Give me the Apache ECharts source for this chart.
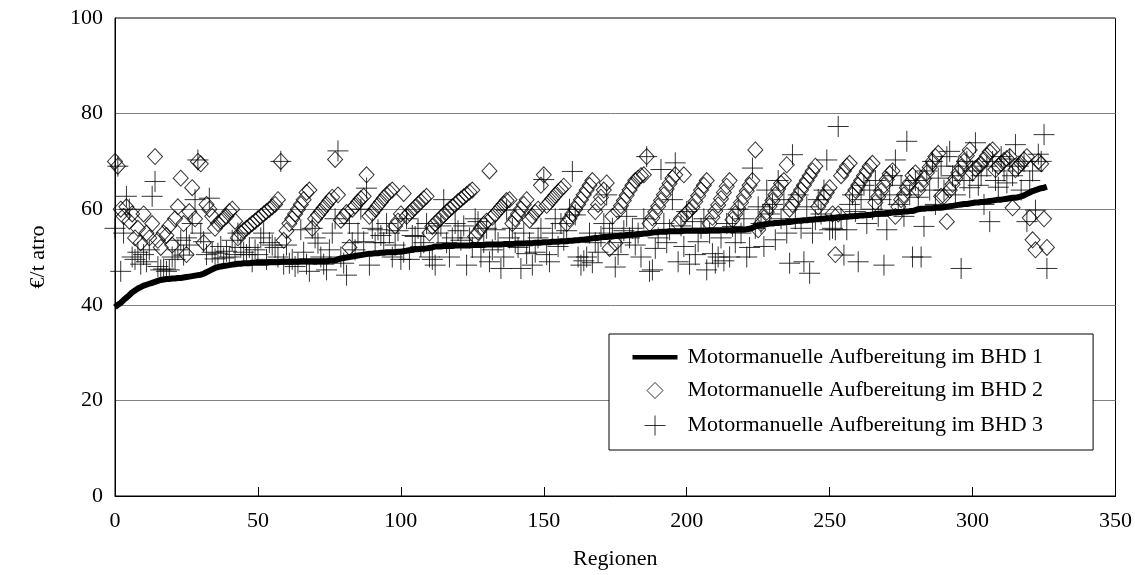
<!DOCTYPE html>
<html>
<head>
<meta charset="utf-8">
<script src="https://cdn.jsdelivr.net/npm/echarts@6/dist/echarts.min.js"></script>
<style>
  html, body { margin: 0; padding: 0; background: #fff; }
  #chart { width: 1135px; height: 575px; }
</style>
</head>
<body>
<div id="chart"></div>
<script>
// Kosten je Region (€/t atro), Regionen sortiert nach BHD 1
const seriesNames = [
  'Motormanuelle Aufbereitung im BHD 1',
  'Motormanuelle Aufbereitung im BHD 2',
  'Motormanuelle Aufbereitung im BHD 3'
];

const bhd1 = [
  39.5, 40.0, 40.4, 41.0, 41.5, 42.0, 42.6, 43.0, 43.4, 43.7, 44.0, 44.2,
  44.4, 44.6, 44.8, 45.0, 45.2, 45.3, 45.4, 45.4, 45.5, 45.5, 45.6, 45.6,
  45.7, 45.8, 45.9, 46.0, 46.1, 46.2, 46.3, 46.5, 46.8, 47.1, 47.4, 47.7,
  47.9, 48.0, 48.1, 48.2, 48.3, 48.4, 48.5, 48.6, 48.6, 48.7, 48.7, 48.7,
  48.8, 48.8, 48.8, 48.8, 48.8, 48.8, 48.9, 48.9, 48.9, 48.9, 49.0, 49.0,
  49.0, 49.0, 49.0, 49.0, 49.0, 49.1, 49.1, 49.1, 49.1, 49.1, 49.1, 49.1,
  49.1, 49.1, 49.1, 49.2, 49.2, 49.3, 49.5, 49.7, 49.8, 49.9, 50.0, 50.1,
  50.2, 50.3, 50.4, 50.5, 50.6, 50.7, 50.7, 50.8, 50.8, 50.9, 50.9, 51.0,
  51.0, 51.0, 51.0, 51.1, 51.1, 51.2, 51.3, 51.4, 51.5, 51.6, 51.6, 51.7, 51.7,
  51.8, 51.9, 52.0, 52.2, 52.2, 52.2, 52.3, 52.3, 52.3, 52.3, 52.4, 52.4,
  52.4, 52.4, 52.4, 52.4, 52.5, 52.5, 52.5, 52.5, 52.5, 52.6, 52.6, 52.6,
  52.6, 52.6, 52.6, 52.7, 52.7, 52.7, 52.7, 52.8, 52.8, 52.8, 52.8, 52.9,
  52.9, 52.9, 53.0, 53.0, 53.0, 53.1, 53.1, 53.1, 53.2, 53.2, 53.2, 53.3,
  53.3, 53.3, 53.4, 53.4, 53.5, 53.5, 53.6, 53.6, 53.7, 53.8, 53.9, 54.0,
  54.0, 54.1, 54.2, 54.2, 54.3, 54.3, 54.4, 54.4, 54.5, 54.5, 54.6, 54.6,
  54.7, 54.7, 54.8, 54.8, 54.9, 54.9, 55.0, 55.1, 55.2, 55.2, 55.3, 55.3,
  55.3, 55.4, 55.4, 55.4, 55.4, 55.4, 55.5, 55.5, 55.5, 55.5, 55.5, 55.5, 55.5,
  55.5, 55.5, 55.6, 55.6, 55.6, 55.6, 55.6, 55.6, 55.6, 55.6, 55.6, 55.7,
  55.7, 55.7, 55.7, 55.8, 55.9, 56.1, 56.4, 56.6, 56.7, 56.8, 56.9, 57.0,
  57.0, 57.1, 57.1, 57.2, 57.2, 57.3, 57.3, 57.4, 57.5, 57.6, 57.6, 57.7,
  57.7, 57.8, 57.8, 57.9, 57.9, 58.0, 58.0, 58.1, 58.1, 58.2, 58.2, 58.3,
  58.3, 58.4, 58.4, 58.5, 58.5, 58.6, 58.6, 58.7, 58.7, 58.8, 58.8, 58.9,
  59.0, 59.0, 59.1, 59.1, 59.2, 59.2, 59.3, 59.3, 59.4, 59.4, 59.5, 59.5,
  59.6, 59.6, 59.8, 60.0, 60.1, 60.1, 60.2, 60.2, 60.2, 60.3, 60.3, 60.3,
  60.4, 60.5, 60.6, 60.7, 60.8, 60.9, 61.0, 61.1, 61.1, 61.2, 61.3, 61.4, 61.4,
  61.5, 61.5, 61.6, 61.7, 61.8, 61.9, 62.0, 62.0, 62.1, 62.2, 62.3, 62.4,
  62.4, 62.5, 62.7, 62.9, 63.2, 63.5, 63.8, 64.0, 64.2, 64.4, 64.5, 64.7
];

const bhd2 = [
  70, 69, 60, 58.5, 60.5, 57.5, 59, 54, 56, 53, 59, 55,
  54, 57, 71, 53.5, 52, 55, 54.5, 56.5, 52.5, 58, 60.5, 66.5,
  57, 50.5, 59.5, 64.5, 58, 70, 69.5, 53, 61, 60, 58.5, 56,
  57, 57.5, 58, 58.5, 59.5, 60, 57.5, 54, 55, 55.5, 56, 56.5,
  57, 57.5, 58, 58.5, 59, 59.5, 60, 60.5, 61, 62, 70, 53.5,
  55.5, 57, 58, 59, 60, 61, 62, 63.5, 64, 56, 58, 58.8,
  59.5, 60.3, 61, 61.8, 62.5, 70.4, 63, 57.7, 58.5, 59.3, 52, 60,
  60.7, 61.5, 62.2, 62.7, 67.2, 58.5, 59.2, 60, 60.8, 61.5, 62.3, 63,
  63.6, 64, 56.5, 57.5, 59, 63.3, 58.5, 59.2, 59.8, 60.4, 61, 61.6, 62.2,
  62.7, 55, 56.4, 57, 57.6, 58.2, 58.8, 59.4, 60, 60.5, 61, 61.6,
  62.1, 62.6, 63.1, 63.6, 64, 54.3, 55.2, 56, 56.8, 57.5, 68, 58.3,
  59, 59.7, 60.4, 61.1, 61.8, 62, 57, 58, 59, 60, 61, 62,
  57.7, 58.5, 59.3, 60, 65, 67.2, 60.8, 61.5, 62.2, 62.9, 63.6, 64.2,
  64.8, 57, 58, 59, 60, 61, 62, 63, 64, 65, 66, 59.5,
  61, 62.5, 64, 65.5, 51.8, 58.5, 52.9, 59.6, 60.7, 61.8, 62.9, 64,
  65, 66, 66.5, 67, 67.2, 71, 57, 58.2, 59.4, 60.6, 61.8, 63,
  64.2, 65.4, 66.5, 67.2, 57, 58, 67.2, 59.2, 59.8, 60.4, 61.6, 62.8, 64,
  65, 66, 57, 58.3, 59.6, 60.9, 62.2, 63.5, 64.8, 66, 57.8, 59,
  60.2, 61.4, 62.6, 63.8, 65, 66, 72.4, 55.7, 57, 58.2, 59.4, 60.6,
  61.8, 63, 64.2, 65.4, 66, 69.3, 60, 61, 62, 63, 64, 65,
  66, 67, 68, 69, 60.5, 61.5, 62.5, 63.5, 64.5, 59, 50.5, 59,
  67, 68, 69, 69.6, 63, 64, 65, 66, 67, 68, 69, 69.6,
  61.4, 62.6, 63.8, 65, 66.2, 67.4, 68, 58.5, 60.5, 62, 63, 64.5,
  65.5, 67, 67.6, 64, 65.2, 66.4, 67.6, 68.8, 70, 71, 71.7, 62.7,
  62.7, 57.4, 64, 65.2, 66.4, 67.6, 68.8, 70, 71.2, 72.4, 67.6, 68.5, 69,
  69.4, 70.3, 71.2, 72, 72.4, 68.3, 69, 69.6, 70.2, 70.6, 71, 60.3,
  68.3, 69, 69.6, 70.3, 71, 58.2, 53.6, 51.5, 70, 69.5, 58, 52
];

const bhd3 = [
  56, 69, 47, 55, 62.7, 60, 50, 49.5, 51, 48.5, 50.5, 49,
  51.5, 62.7, 65.8, 48, 47.3, 47.5, 47, 47.3, 50, 49.5, 51.5, 53.5,
  50.4, 54, 52.5, 57, 62, 70.3, 55, 53.2, 50.5, 62.3, 51, 49.6,
  50.8, 52.2, 49.8, 51.2, 50, 53.5, 50.5, 55, 52, 51, 50.5, 52,
  49, 51.5, 50.5, 54, 55, 49.5, 53, 52.5, 52, 50, 70, 48.5,
  52.5, 48.7, 49.5, 48, 48.7, 55.7, 51, 48.5, 47, 56, 54, 52.9,
  50, 48.5, 47.3, 51.5, 55, 58, 72.2, 50, 48.7, 46.2, 57, 53,
  51.5, 55, 60, 53.2, 64.4, 48.3, 56, 53, 55.7, 54.5, 53, 57,
  55, 50, 52.5, 55.5, 49.5, 51, 58, 49.5, 54.5, 54.3, 56, 52.2, 53,
  57, 50, 49.5, 48.3, 55, 56.5, 62, 53, 50, 54, 57, 55.5,
  53.5, 56.5, 48.3, 54, 52, 58, 57.4, 50, 53, 56, 49, 51.5,
  55.7, 53, 47.6, 50, 59.8, 54, 56, 53, 52, 47.6, 55, 50.7,
  53, 48.3, 51, 54, 56, 66.2, 50.5, 49, 55, 58, 52.2, 57,
  53.5, 55.5, 60, 67.9, 58.8, 50, 48.3, 49.2, 50, 55, 48.8, 53,
  51, 54.3, 57, 63, 55, 56, 47.9, 50.5, 53, 55.5, 58.5, 54,
  56, 52.5, 55, 50, 58, 71, 47, 47.3, 51.8, 54, 68.3, 57,
  53, 55.7, 62, 69.7, 49, 56.5, 52.2, 59.5, 48.5, 57.4, 50.5, 53.2, 56,
  58, 47.3, 55, 50.7, 48.7, 50, 54, 49.2, 57, 50, 56.4, 53,
  60, 55, 58, 50, 52, 68.6, 56, 60.5, 57, 52.2, 64, 59,
  61, 53.6, 66, 58, 62, 55, 48.7, 71.4, 58, 63, 56, 49,
  60.5, 46.6, 55, 57.8, 62, 59, 64, 70.3, 55.7, 56, 55.7, 77.3,
  58, 50.4, 55.7, 61, 63, 59.5, 49, 62, 65, 57, 64, 60,
  66, 58.5, 62, 48.3, 55.7, 63, 67, 70.3, 61, 65, 58.5, 74.2,
  63, 50, 66, 62.5, 50, 56.4, 68, 64, 70, 61, 66.5, 69,
  64, 71, 72.1, 67, 63, 69, 47.6, 66, 70, 64.5, 68, 73.9, 65,
  67, 61, 69, 57.4, 70, 66, 64.6, 71, 68, 65.5, 70.5, 67,
  73.5, 69, 64, 70, 57.4, 66, 68, 59.8, 71.5, 70, 75.6, 47.6
];

const xTicks = { min: 0, max: 350, interval: 50 };
const yTicks = { min: 0, max: 100, interval: 20 };

const serif = "'Liberation Serif', 'Times New Roman', serif";
const crossPath = 'path://M0,10L20,10M10,0L10,20';
// legend icons drawn in a 50x20 box so nothing gets stretched
const legendLineIcon = 'path://M0,0M50,20M0,8L45,8L45,12.5L0,12.5Z';
const legendDiamondIcon = 'path://M0,0M50,20M14.5,10L22.5,2L30.5,10L22.5,18Z';
const legendCrossIcon = 'path://M0,0M50,20M12,10L33,10M22.5,0L22.5,20';

function toPoints(arr) {
  return arr.map(function (v, i) { return [i, v]; });
}

const chartObj = echarts.init(document.getElementById('chart'));
const option = {
  animation: false,
  backgroundColor: '#fff',
  grid: {
    left: 115,
    right: 17,
    top: 18,
    bottom: 78,
    show: true,
    borderColor: '#000',
    borderWidth: 1
  },
  legend: {
    orient: 'vertical',
    left: 609,
    top: 334,
    padding: [12, 50, 12, 21],
    itemGap: 10,
    itemWidth: 50,
    itemHeight: 20,
    backgroundColor: '#fff',
    borderColor: '#000',
    borderWidth: 1,
    textStyle: { fontFamily: serif, fontSize: 22, color: '#000' },
    data: [
      { name: seriesNames[0], icon: legendLineIcon, itemStyle: { color: '#000', borderWidth: 0 } },
      { name: seriesNames[1], icon: legendDiamondIcon, itemStyle: { color: 'none', borderColor: '#000', borderWidth: 1 } },
      { name: seriesNames[2], icon: legendCrossIcon, itemStyle: { color: 'none', borderColor: '#000', borderWidth: 1 } }
    ]
  },
  xAxis: {
    type: 'value',
    min: xTicks.min,
    max: xTicks.max,
    interval: xTicks.interval,
    name: 'Regionen',
    nameLocation: 'middle',
    nameGap: 52,
    nameTextStyle: { fontFamily: serif, fontSize: 22, color: '#000' },
    axisLine: { onZero: false, lineStyle: { color: '#000', width: 1 } },
    axisTick: { inside: true, length: 9, lineStyle: { color: '#000' } },
    axisLabel: { margin: 14, fontFamily: serif, fontSize: 22, color: '#000' },
    splitLine: { show: false }
  },
  yAxis: {
    type: 'value',
    min: yTicks.min,
    max: yTicks.max,
    interval: yTicks.interval,
    name: '€/t atro',
    nameLocation: 'middle',
    nameGap: 66,
    nameTextStyle: { fontFamily: serif, fontSize: 22, color: '#000' },
    axisLine: { show: true, lineStyle: { color: '#000', width: 1 } },
    axisTick: { show: false },
    axisLabel: { margin: 12, fontFamily: serif, fontSize: 22, color: '#000' },
    splitLine: { lineStyle: { color: '#808080', width: 1 } }
  },
  series: [
    {
      name: seriesNames[1],
      type: 'scatter',
      symbol: 'diamond',
      symbolSize: [15, 16],
      data: toPoints(bhd2),
      itemStyle: { color: 'none', borderColor: '#000', borderWidth: 1 },
      z: 2
    },
    {
      name: seriesNames[2],
      type: 'scatter',
      symbol: crossPath,
      symbolSize: 21,
      data: toPoints(bhd3),
      itemStyle: { color: 'none', borderColor: '#000', borderWidth: 1 },
      z: 2
    },
    {
      name: seriesNames[0],
      type: 'line',
      data: toPoints(bhd1),
      showSymbol: false,
      symbol: 'none',
      lineStyle: { color: '#000', width: 6 },
      itemStyle: { color: '#000' },
      z: 3
    }
  ]
};
chartObj.setOption(option);
</script>
</body>
</html>
